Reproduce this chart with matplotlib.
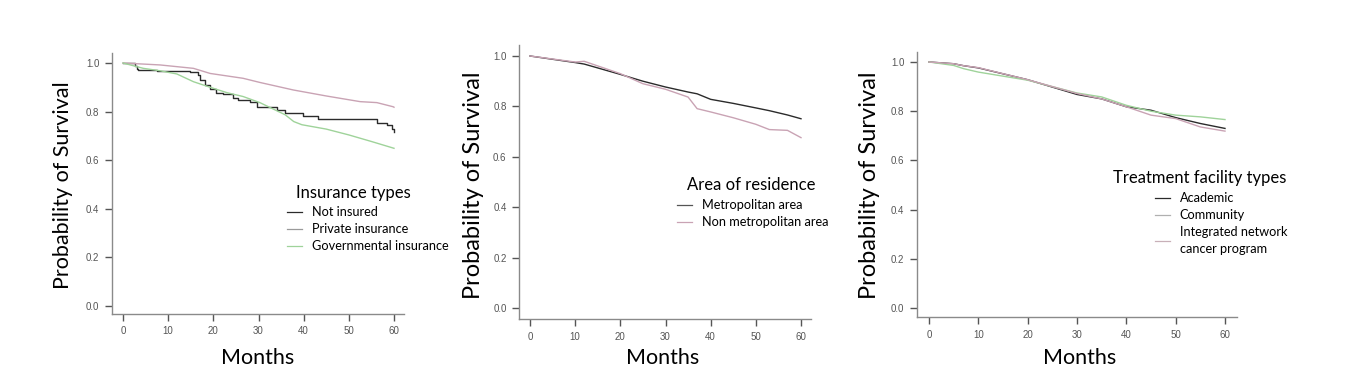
import matplotlib.pyplot as plt

# ---- panel 1: insurance types ----
ins_months_none = [0, 2.7, 3.0, 3.4, 7.5, 14.8, 16.5, 17.1, 18.2, 19.3, 20.7, 22.2, 24.4, 25.5,
                   28.1, 29.6, 30.3, 34.0, 35.9, 39.9, 43.2, 56.2, 58.5, 59.5, 60]
ins_surv_none = [1.0, 0.986, 0.974, 0.971, 0.968, 0.964, 0.951, 0.930, 0.909, 0.892, 0.878, 0.871,
                 0.855, 0.848, 0.841, 0.820, 0.820, 0.807, 0.793, 0.782, 0.768, 0.752, 0.743, 0.730, 0.718]
ins_months_priv = [0, 8.2, 15.6, 19.3, 26.6, 30.3, 37.7, 45.1, 52.5, 56.2, 59.8, 60]
ins_surv_priv = [1.0, 0.992, 0.978, 0.957, 0.937, 0.920, 0.889, 0.864, 0.841, 0.837, 0.820, 0.818]
ins_months_gov = [0, 4.5, 8.2, 11.9, 15.6, 19.3, 23.0, 26.6, 30.3, 35.9, 37.8, 39.6, 45, 50, 55, 60]
ins_surv_gov = [1.0, 0.978, 0.968, 0.955, 0.923, 0.900, 0.878, 0.862, 0.837, 0.787, 0.759, 0.746,
                0.728, 0.704, 0.677, 0.649]

# ---- panel 2: area of residence ----
res_months = [0, 10, 12, 20, 25, 30, 35, 37, 40, 45, 50, 53, 57, 60]
res_metro = [1.0, 0.974, 0.968, 0.927, 0.900, 0.877, 0.857, 0.850, 0.828, 0.812, 0.794, 0.783, 0.766, 0.751]
res_nonmetro = [1.0, 0.976, 0.979, 0.930, 0.890, 0.868, 0.837, 0.791, 0.778, 0.755, 0.729, 0.708, 0.705, 0.676]

# ---- panel 3: treatment facility types ----
fac_months = [0, 5, 7, 10, 20, 30, 35, 40, 45, 50, 55, 60]
fac_academic = [1.0, 0.993, 0.985, 0.976, 0.928, 0.868, 0.850, 0.818, 0.804, 0.774, 0.750, 0.730]
fac_community = [1.0, 0.986, 0.973, 0.959, 0.926, 0.874, 0.858, 0.824, 0.800, 0.784, 0.777, 0.766]
fac_integrated = [1.0, 0.993, 0.985, 0.977, 0.928, 0.872, 0.850, 0.818, 0.784, 0.770, 0.736, 0.719]

BLACK = "#2b2b2b"
PINK = "#c9a3b4"
GREEN = "#9fd39a"

W, H = 1368, 392
fig = plt.figure(figsize=(W / 100, H / 100), dpi=100)
fig.patch.set_facecolor("white")


def make_axes(left, right, top, bottom, x0, x60, y1, y0):
    ax = fig.add_axes([left / W, (H - bottom) / H, (right - left) / W, (bottom - top) / H])
    px_x = (x60 - x0) / 60
    px_y = (y0 - y1)
    ax.set_xlim(-(x0 - left) / px_x, 60 + (right - x60) / px_x)
    ax.set_ylim(-(bottom - y0) / px_y, 1 + (y1 - top) / px_y)
    for s in ["top", "right"]:
        ax.spines[s].set_visible(False)
    for s in ["left", "bottom"]:
        ax.spines[s].set_color("#8a8a8a")
        ax.spines[s].set_linewidth(1.0)
    ax.set_xticks([0, 10, 20, 30, 40, 50, 60])
    ax.set_yticks([0.0, 0.2, 0.4, 0.6, 0.8, 1.0])
    ax.set_yticklabels(["0.0", "0.2", "0.4", "0.6", "0.8", "1.0"])
    ax.tick_params(axis="both", direction="out", length=5, width=1, color="#555555",
                   labelsize=7, labelcolor="#555555", pad=4)
    for lab in ax.get_xticklabels() + ax.get_yticklabels():
        lab.set_family("Liberation Sans")
    return ax


def decorate(ax, label_x, label_size, months_x, title, title_xy, handle_xy, handles, labels):
    fig.text(label_x / W, 1 - 185 / H, "Probability of Survival", rotation=90,
             ha="center", va="center", fontsize=label_size, family="Lato", color="black")
    fig.text(months_x / W, 1 - 358 / H, "Months", ha="center", va="center",
             fontsize=15.5, family="Lato", color="black")
    fig.text(title_xy[0] / W, 1 - title_xy[1] / H, title, ha="center", va="center",
             fontsize=12, family="Lato", color="black")
    leg = ax.legend(handles, labels, loc="upper left",
                    bbox_to_anchor=(handle_xy[0] / W, 1 - handle_xy[1] / H),
                    bbox_transform=fig.transFigure, frameon=False,
                    handlelength=1.17, handletextpad=0.75, labelspacing=0.4,
                    borderpad=0, borderaxespad=0,
                    prop={"family": "Lato", "size": 9.2})
    for line in leg.get_lines():
        line.set_linewidth(0.9)
    for txt in leg.get_texts():
        txt.set_linespacing(1.45)


# panel 1
ax1 = make_axes(112, 404, 53, 314, 123, 394, 63, 306)
ax1.plot(ins_months_none, ins_surv_none, color=BLACK, lw=1, drawstyle="steps-post")
ax1.plot(ins_months_priv, ins_surv_priv, color=PINK, lw=1)
ax1.plot(ins_months_gov, ins_surv_gov, color=GREEN, lw=1)
h1 = [plt.Line2D([], [], color=BLACK), plt.Line2D([], [], color="#9a9a9a"),
      plt.Line2D([], [], color=GREEN)]
decorate(ax1, 63, 15.5, 258, "Insurance types", (353, 193), (287, 206), h1,
         ["Not insured", "Private insurance", "Governmental insurance"])

# panel 2
ax2 = make_axes(519, 811, 45, 319, 530, 801, 56, 308)
ax2.plot(res_months, res_metro, color=BLACK, lw=1)
ax2.plot(res_months, res_nonmetro, color=PINK, lw=1)
h2 = [plt.Line2D([], [], color="#555555"), plt.Line2D([], [], color=PINK)]
decorate(ax2, 473, 17, 663, "Area of residence", (751, 185), (677, 199), h2,
         ["Metropolitan area", "Non metropolitan area"])

# panel 3
ax3 = make_axes(917, 1237, 52, 317, 929, 1225, 62, 308)
ax3.plot(fac_months, fac_academic, color=BLACK, lw=1)
ax3.plot(fac_months, fac_community, color=GREEN, lw=1)
ax3.plot(fac_months, fac_integrated, color=PINK, lw=1)
h3 = [plt.Line2D([], [], color=BLACK), plt.Line2D([], [], color="#b0b0b0"),
      plt.Line2D([], [], color="#c8b0b8")]
decorate(ax3, 870, 17, 1080, "Treatment facility types", (1200, 178), (1155, 192), h3,
         ["Academic", "Community", "Integrated network\ncancer program"])

fig.savefig("out.png", dpi=100, facecolor="white")
